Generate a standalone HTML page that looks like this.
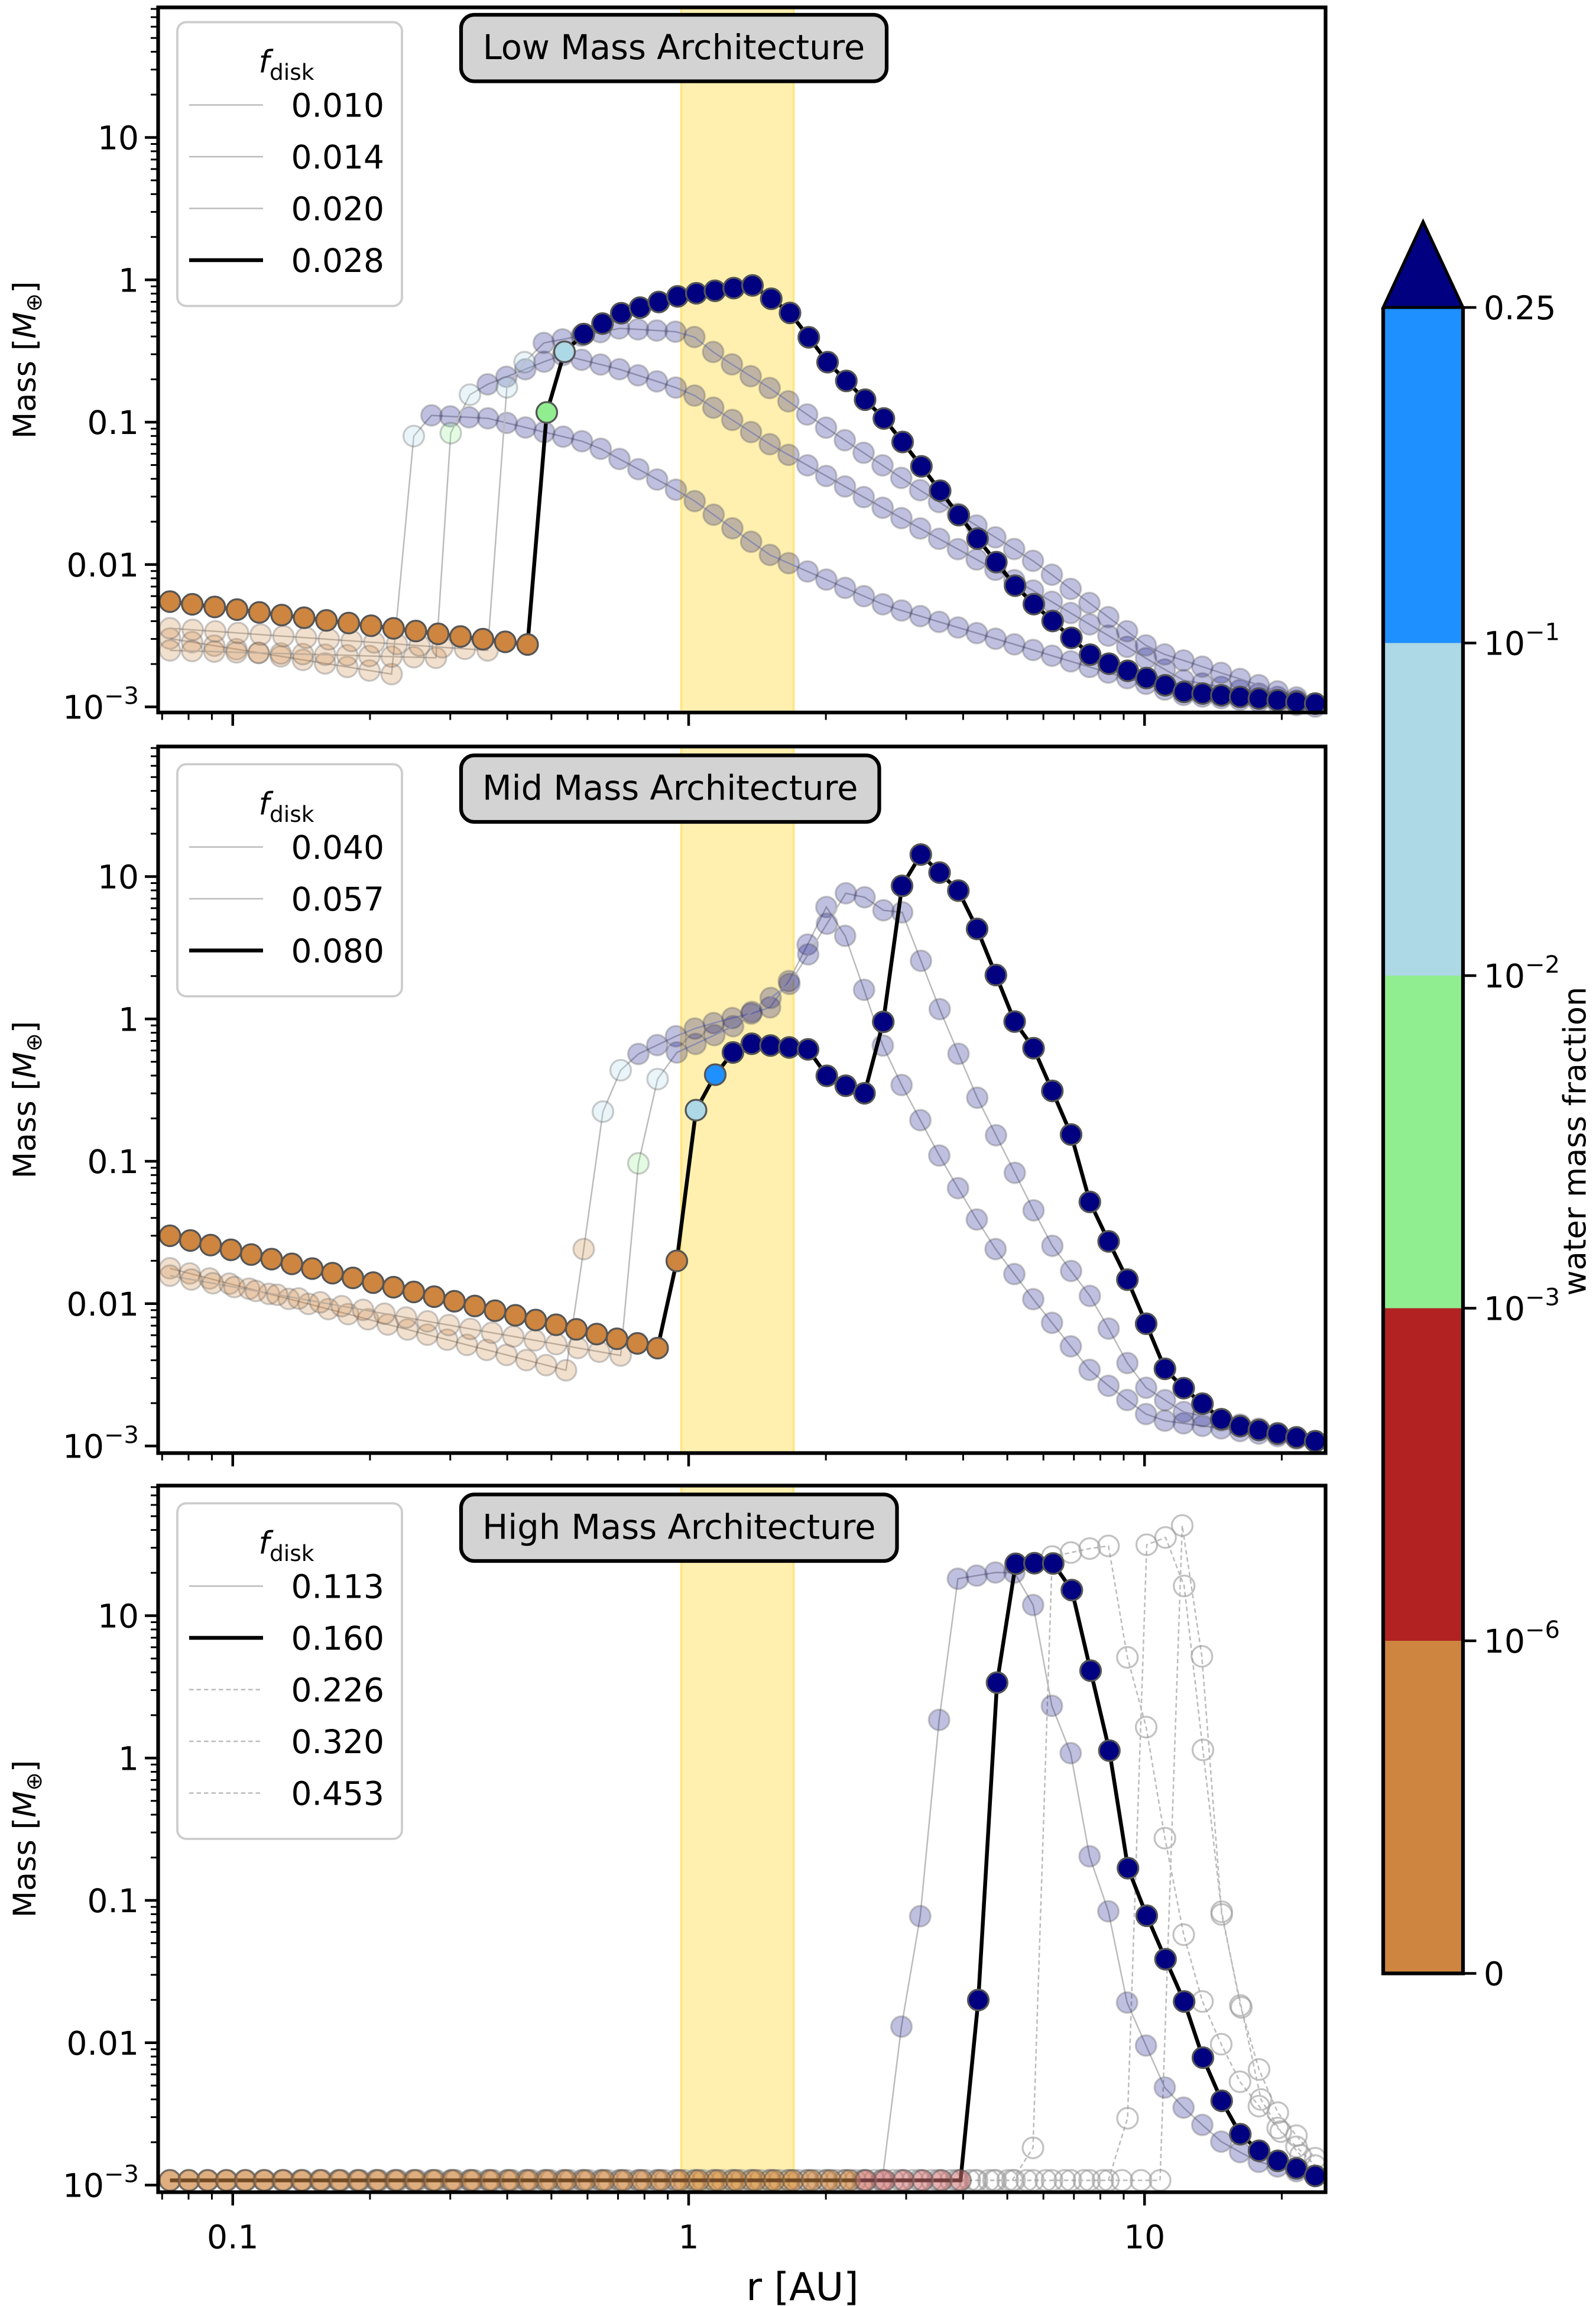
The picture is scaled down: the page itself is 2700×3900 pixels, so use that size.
<!DOCTYPE html>
<html><head><meta charset="utf-8">
<style>
html,body{margin:0;padding:0;background:#fff;overflow:hidden;}
svg{display:block;}
text{font-family:"DejaVu Sans","Liberation Sans",sans-serif;fill:#000;}
</style></head>
<body>
<svg id="s" width="2700" height="3900" viewBox="0 0 1080 1560" xmlns="http://www.w3.org/2000/svg"></svg>
<script>
const S=document.getElementById('s');
let h='';
const C={brown:'#cd853f',red:'#b22222',pink:'#cd7070',green:'#90ee90',lb:'#add8e6',blue:'#1e90ff',navy:'#000080',open:'none'};
const X0=107,X1=897;
function xp(v){return 466+Math.log10(v)*308.5;}
const panels=[{t:5,b:482},{t:505,b:983},{t:1005,b:1483}];
function yp(p,v){return p.t+88+(1-Math.log10(v))*96.3;}
panels.forEach(p=>{
 h+=`<rect x="461" y="${p.t}" width="76" height="${p.b-p.t}" fill="#fff0b0" stroke="#ffe680" stroke-width="1.5"/>`;
});
function interp(pts,x){
 for(let i=0;i<pts.length-1;i++){const a=pts[i],b=pts[i+1];
  if(x>=a[0]-1e-6&&x<=b[0]+1e-6){return a[1]+(b[1]-a[1])*(x-a[0])/((b[0]-a[0])||1);}}
 return pts[pts.length-1][1];
}
function gen(segs){
 let out=[];
 segs.forEach(([c,st,pts,op])=>{
  if(pts.length==1){out.push({x:pts[0][0],y:pts[0][1],c,op});return;}
  const f=pts[0][0],l=pts[pts.length-1][0];
  const n=Math.max(1,Math.round((l-f)/st));
  for(let k=0;k<=n;k++){const x=f+k*(l-f)/n;out.push({x,y:interp(pts,x),c,op});}
 });
 return out;
}
function draw(segs,mode){
 const pts=gen(segs);
 const d=pts.map(p=>p.x.toFixed(1)+','+p.y.toFixed(1)).join(' ');
 if(mode=='bold'){
  h+=`<polyline points="${d}" fill="none" stroke="#000" stroke-width="2.6"/>`;
  pts.forEach(p=>h+=`<circle cx="${p.x.toFixed(1)}" cy="${p.y.toFixed(1)}" r="7" fill="${C[p.c]}" fill-opacity="${p.op||1}" stroke="#555" stroke-opacity="${p.op||1}" stroke-width="1.3"/>`);
 }else if(mode=='faint'){
  h+=`<polyline points="${d}" fill="none" stroke="#bbb" stroke-width="1"/>`;
  pts.forEach(p=>h+=`<circle cx="${p.x.toFixed(1)}" cy="${p.y.toFixed(1)}" r="7" fill="${C[p.c]}" fill-opacity="0.25" stroke="#555" stroke-opacity="0.3" stroke-width="1.3"/>`);
 }else{
  h+=`<polyline points="${d}" fill="none" stroke="#bbb" stroke-width="1" stroke-dasharray="3,2"/>`;
  pts.forEach(p=>h+=`<circle cx="${p.x.toFixed(1)}" cy="${p.y.toFixed(1)}" r="7" fill="none" stroke="#999" stroke-opacity="0.6" stroke-width="1.3"/>`);
 }
}
// Panel 1
draw([['brown',15,[[115,432],[265,456]]],['lb',1,[[280,295]]],['navy',12.8,[[292,281],[330,283],[400,300],[466,336],[520,375],[600,410],[700,440],[800,470],[890,478]]]],'faint');
draw([['brown',15,[[115,440],[295,445]]],['green',1,[[305,293]]],['lb',1,[[318,267]]],['navy',12.8,[[330,260],[380,240],[420,250],[466,265],[520,300],[600,345],[700,400],[800,460],[890,476]]]],'faint');
draw([['brown',15,[[115,425],[330,440]]],['lb',1,[[343,262]]],['lb',1,[[355,245]]],['navy',12.8,[[368,232],[420,222],[466,225],[485,240],[520,262],[560,290],[620,330],[700,380],[780,440],[890,476]]]],'faint');
draw([['brown',15,[[115,407],[357,436]]],['green',1,[[370,279]]],['lb',1,[[382,238]]],['navy',12.7,[[395,226],[420,212],[460,200],[510,193],[535,212],[560,245],[600,285],[650,350],[690,400],[740,445],[800,468],[890,476]]]],'bold');
// Panel 2
draw([['brown',13.4,[[115,858],[383,927]]],['brown',1,[[395,845]]],['lb',1,[[408,752]]],['lb',1,[[420,724]]],['navy',12.8,[[432,713],[466,697],[490,690],[520,683],[535,662],[560,612],[573,635],[600,715],[640,790],[670,840],[700,880],[740,930],[780,960],[890,975]]]],'faint');
draw([['brown',14.2,[[115,863],[420,917]]],['green',1,[[432,787]]],['lb',1,[[445,730]]],['navy',12.8,[[458,712],[495,695],[535,665],[575,600],[598,616],[610,616],[636,683],[660,740],[685,790],[710,840],[740,880],[770,935],[800,955],[890,975]]]],'faint');
draw([['brown',13.9,[[115,836],[445,912]]],['brown',1,[[458,853]]],['lb',1,[[471,751]]],['blue',1,[[484,727]]],['navy',12.8,[[496,712],[509,706],[548,710],[561,730],[586,740],[598,690],[610,600],[623,578],[649,603],[662,630],[687,692],[700,710],[725,768],[738,815],[765,870],[790,930],[830,963],[890,975]]]],'bold');
// Panel 3
draw([['open',12.8,[[115,1475],[685,1475]]],['open',1,[[699,1453]]],['open',12.8,[[712,1053],[750,1045],[763,1122],[776,1170],[788,1242],[800,1305],[812,1350],[825,1380],[840,1410],[860,1435],[890,1465]]]],'open');
draw([['open',12.8,[[115,1475],[750,1475]]],['open',1,[[763,1433]]],['open',12.8,[[776,1045],[789,1040],[801,1070],[813,1175],[826,1290],[840,1360],[852,1400],[865,1430],[890,1460]]]],'open');
draw([['open',12.8,[[115,1475],[785,1475]]],['open',12.8,[[800,1032],[813,1116],[826,1292],[840,1358],[852,1418],[865,1440],[880,1458]]]],'open');
draw([['brown',12.8,[[115,1475],[585,1475]]],['pink',1,[[597,1475]]],['navy',12.7,[[610,1371],[622,1304],[635,1167],[648,1068],[685,1062],[698,1080],[712,1155],[724,1183],[737,1255],[750,1293],[763,1356],[776,1385],[788,1412],[800,1425],[825,1448],[850,1462],[890,1472]]]],'faint');
draw([['brown',12.8,[[115,1475],[575,1475]],0.55],['pink',12.8,[[586,1475],[650,1475]],0.55],['navy',12.7,[[662,1353],[674,1143],[686,1058],[712,1057],[724,1070],[737,1126],[750,1180],[763,1263],[776,1296],[788,1324],[800,1350],[815,1395],[826,1420],[840,1445],[852,1455],[865,1462],[890,1472]]]],'bold');
// axes frames, ticks
const ylabels=[[10,'10'],[1,'1'],[0.1,'0.1'],[0.01,'0.01']];
panels.forEach((p,i)=>{
 h+=`<rect x="${X0}" y="${p.t}" width="${X1-X0}" height="${p.b-p.t}" fill="none" stroke="#000" stroke-width="2.5"/>`;
 for(let e=-2;e<=1;e++)for(let m=1;m<10;m++){const v=m*Math.pow(10,e);const x=xp(v);if(x<X0||x>X1)continue;
  const L=m==1?9:5;h+=`<line x1="${x}" y1="${p.b}" x2="${x}" y2="${p.b+L}" stroke="#000" stroke-width="${m==1?1.8:1.2}"/>`;}
 for(let e=-3;e<=1;e++)for(let m=1;m<10;m++){const v=m*Math.pow(10,e);const y=yp(p,v);if(y<p.t||y>p.b+1)continue;
  const L=m==1?9:5;h+=`<line x1="${X0}" y1="${y}" x2="${X0-L}" y2="${y}" stroke="#000" stroke-width="${m==1?1.8:1.2}"/>`;}
 ylabels.forEach(([v,s])=>h+=`<text x="${X0-13}" y="${yp(p,v)+8}" font-size="22" text-anchor="end">${s}</text>`);
 h+=`<text x="${X0-13}" y="${yp(p,0.001)+8}" font-size="22" text-anchor="end">10<tspan font-size="16" dy="-10">−3</tspan></text>`;
 const cy=(p.t+p.b)/2;
 h+=`<text transform="translate(24,${cy}) rotate(-90)" font-size="21" text-anchor="middle">Mass [<tspan font-style="italic">M</tspan><tspan font-size="15" dy="4">⊕</tspan><tspan dy="-4">]</tspan></text>`;
});
[[0.1,'0.1'],[1,'1'],[10,'10']].forEach(([v,s])=>h+=`<text x="${xp(v)}" y="1521" font-size="22" text-anchor="middle">${s}</text>`);
h+=`<text x="543" y="1556" font-size="26" text-anchor="middle">r [AU]</text>`;
[['Low Mass Architecture',312,600,10],['Mid Mass Architecture',312,595,511],['High Mass Architecture',312,607,1011]].forEach(([t,a,b,y])=>{
 h+=`<rect x="${a}" y="${y}" width="${b-a}" height="45" rx="9" fill="#d3d3d3" stroke="#000" stroke-width="2.5"/>`;
 h+=`<text x="${(a+b)/2}" y="${y+30}" font-size="23" text-anchor="middle">${t}</text>`;
});
function legend(top,entries){
 const hgt=52+entries.length*35;
 h+=`<rect x="120" y="${top}" width="152" height="${hgt}" rx="6" fill="#fff" fill-opacity="0.85" stroke="#ccc" stroke-width="1.5"/>`;
 h+=`<text x="175" y="${top+34}" font-size="21" font-style="italic">f<tspan font-style="normal" font-size="15" dy="5">disk</tspan></text>`;
 entries.forEach(([s,m],i)=>{const y=top+56+i*35;
  const st=m=='bold'?'stroke="#000" stroke-width="2.6"':(m=='open'?'stroke="#bbb" stroke-width="1" stroke-dasharray="3,2"':'stroke="#bbb" stroke-width="1"');
  h+=`<line x1="128" y1="${y}" x2="178" y2="${y}" ${st}/>`;
  h+=`<text x="197" y="${y+8}" font-size="22">${s}</text>`;});
}
legend(15,[['0.010','f'],['0.014','f'],['0.020','f'],['0.028','bold']]);
legend(517,[['0.040','f'],['0.057','f'],['0.080','bold']]);
legend(1017,[['0.113','f'],['0.160','bold'],['0.226','open'],['0.320','open'],['0.453','open']]);
const cb=[[208,435,C.blue],[435,660,C.lb],[660,885,C.green],[885,1110,C.red],[1110,1335,C.brown]];
cb.forEach(([a,b,c])=>h+=`<rect x="936" y="${a}" width="54" height="${b-a}" fill="${c}"/>`);
h+=`<polygon points="936,208 990,208 963,150" fill="${C.navy}" stroke="#000" stroke-width="2"/>`;
h+=`<polyline points="936,208 936,1335 990,1335 990,208" fill="none" stroke="#000" stroke-width="2.5"/>`;
[[208,'0.25'],[1335,'0']].forEach(([y,s])=>{h+=`<line x1="990" y1="${y}" x2="999" y2="${y}" stroke="#000" stroke-width="1.8"/><text x="1004" y="${y+8}" font-size="22">${s}</text>`;});
[[435,'−1'],[660,'−2'],[885,'−3'],[1110,'−6']].forEach(([y,s])=>{h+=`<line x1="990" y1="${y}" x2="999" y2="${y}" stroke="#000" stroke-width="1.8"/><text x="1004" y="${y+8}" font-size="22">10<tspan font-size="16" dy="-10">${s}</tspan></text>`;});
h+=`<text transform="translate(1073,772) rotate(-90)" font-size="21" text-anchor="middle">water mass fraction</text>`;
S.innerHTML=h;
</script>
</body></html>
